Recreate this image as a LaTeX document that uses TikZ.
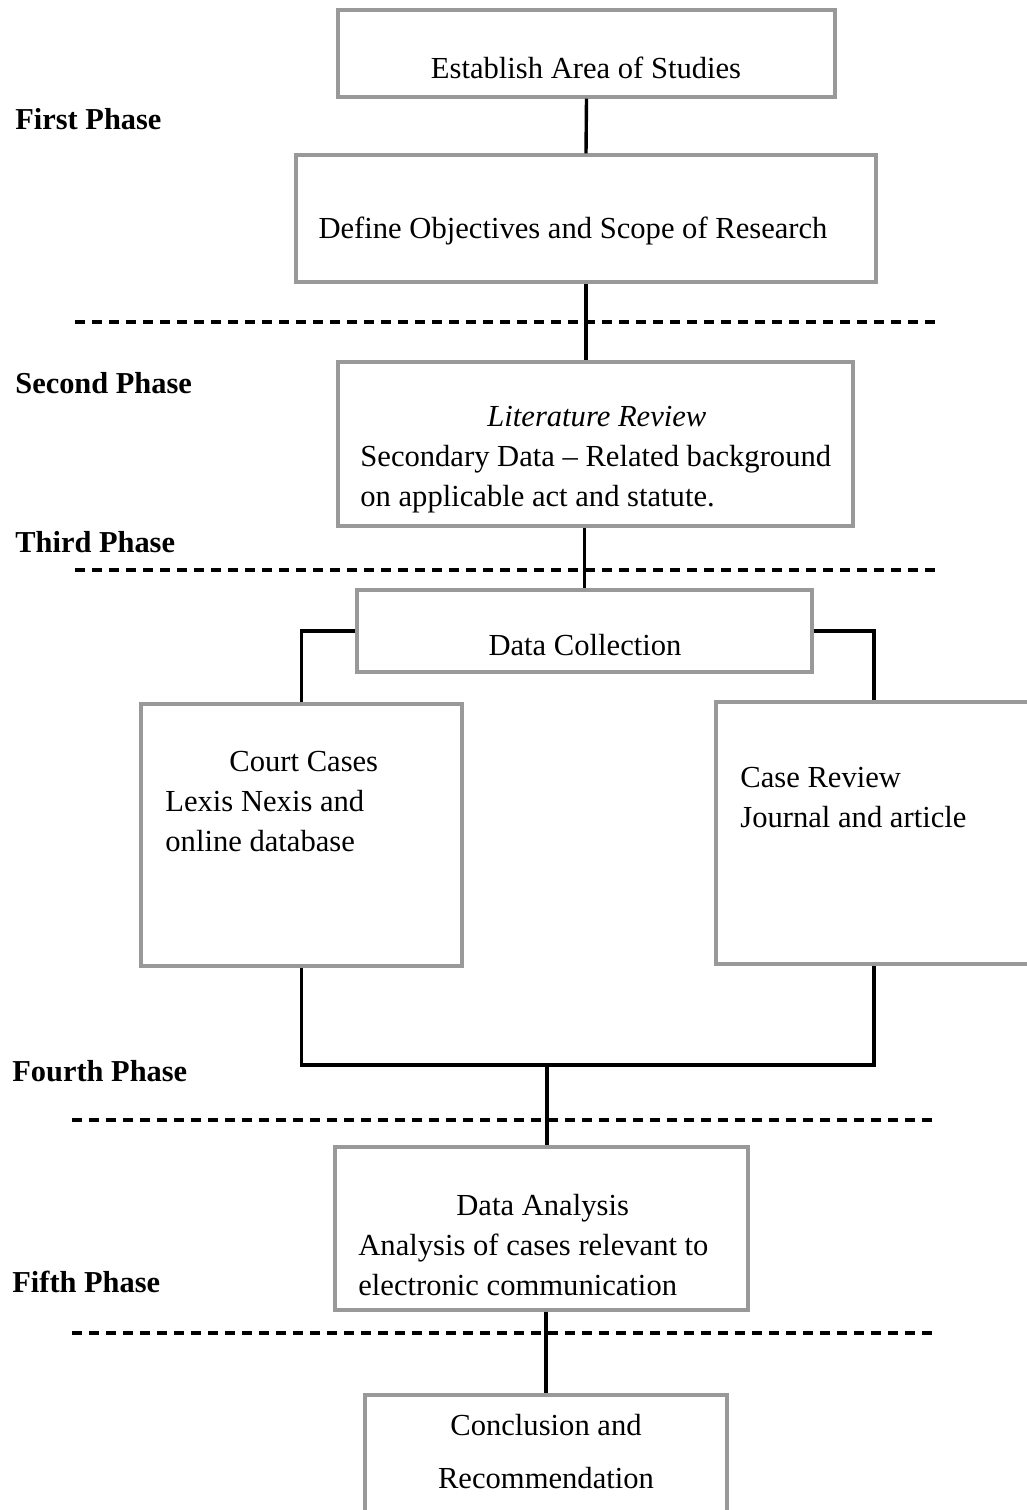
\documentclass[tikz,border=0pt]{standalone}
\usepackage{fontspec}
\setmainfont{Liberation Serif}
\usetikzlibrary{fit,positioning}

\tikzset{
  stagebox/.style={draw=gray!80, line width=1.6pt, inner sep=0pt},
  stagetext/.style={font=\fontsize{15.3}{20}\selectfont, inner sep=0pt},
  phase/.style={font=\fontsize{15.2}{18}\selectfont\bfseries, anchor=west, inner sep=0pt},
  link/.style={line width=1.7pt},
  split/.style={line width=1.6pt, dash pattern=on 5pt off 3.5pt},
}

\begin{document}
\begin{tikzpicture}[x=0.5pt,y=-0.5pt]
	\useasboundingbox (0,0) rectangle (1027,1510);
	\clip (0,0) rectangle (1027,1510);
	% phase separators
	\foreach \y/\x in {322/75,570/75,1120/72,1333/72}
		\draw[split] (\x,\y) -- (935,\y);
	% phase labels
	\node[phase] (ph1) at (15,119) {First Phase};
	\node[phase] (ph2) at (15,383) {Second Phase};
	\node[phase] (ph3) at (15,542) {Third Phase};
	\node[phase] (ph4) at (12,1071) {Fourth Phase};
	\node[phase] (ph5) at (12,1282) {Fifth Phase};
	%
	\node[stagebox, fit={(338,10) (835,97)}] (est) {};
	\node[stagebox, fit={(296,155) (876,282)}] (def) {};
	\node[stagebox, fit={(338,362) (853,526)}] (lit) {};
	\node[stagebox, fit={(357,590) (812,672)}] (dc) {};
	\node[stagebox, fit={(141,704) (462,966)}] (court) {};
	\node[stagebox, fit={(716,702) (1032,964)}] (case) {};
	\node[stagebox, fit={(335,1147) (748,1310)}] (ana) {};
	\node[stagebox, fit={(365,1395) (727,1530)}] (conc) {};
	%
	\node[stagetext] (esttxt) at (586,68) {Establish Area of Studies};
	\node[stagetext] (deftxt) at (573,231) {Define Objectives and Scope of Research};
	\node[stagetext, anchor=west, align=left] (littxt) at (360,460)
		{\hspace*{63.5pt}\textit{Literature Review}\\ Secondary Data -- Related background\\ on applicable act and statute.};
	\node[stagetext] (dctxt) at (585,645) {Data Collection};
	\node[stagetext, anchor=west, align=left] (courttxt) at (165,802)
		{\hspace*{32pt}Court Cases\\ Lexis Nexis and\\ online database};
	\node[stagetext, anchor=west, align=left] (casetxt) at (740,798)
		{Case Review\\ Journal and article};
	\node[stagetext, anchor=west, align=left] (anatxt) at (358,1245)
		{\hspace*{49pt}Data Analysis\\ Analysis of cases relevant to\\ electronic communication};
	\node[stagetext, align=center] (conctxt) at (546,1452)
		{Conclusion and\\[6.5pt] Recommendation};
	%
	\coordinate (merge) at (547,1065);
	\draw[link] (est.south) -- (def.north);
	\draw[link] (def.south) -- (def.south |- lit.north);
	\draw[link] (dc.north |- lit.south) -- (dc.north);
	\draw[link] (dc.west) -| (court.north);
	\draw[link] (dc.east) -| (case.north);
	\draw[link] (court.south) |- (merge) -| (case.south);
	\draw[link] (merge) -- (merge |- ana.north);
	\draw[link] (ana.south -| conc.north) -- (conc.north);
\end{tikzpicture}
\end{document}
